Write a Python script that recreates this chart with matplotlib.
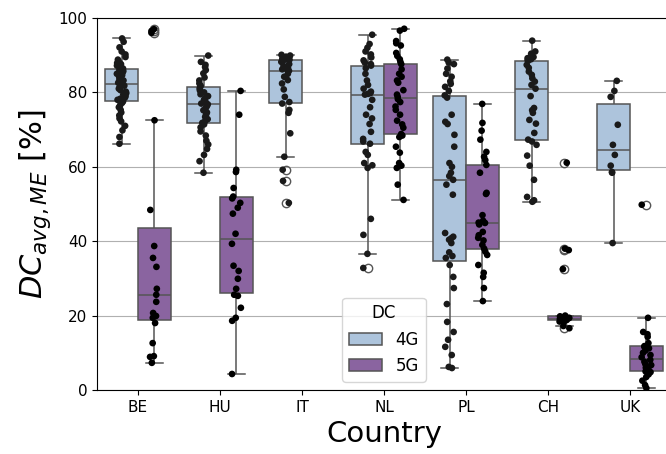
import matplotlib
matplotlib.use('Agg')
import matplotlib.pyplot as plt
import numpy as np
import pandas as pd
import seaborn as sns

countries = ['BE', 'HU', 'IT', 'NL', 'PL', 'CH', 'UK']
techs = ['4G', '5G']

# DC_avg,ME [%] per country and technology
be_4g = [94.5, 93.6, 92.1, 91.0, 90.2, 89.5, 88.8, 88.3, 87.9, 87.6, 87.2, 86.8, 86.4,
         86.0, 85.7, 85.3, 85.0, 84.6, 84.2, 83.8, 83.5, 83.2, 83.0, 82.6, 82.2, 81.8,
         81.4, 81.0, 80.6, 80.2, 79.8, 79.4, 79.0, 78.6, 78.3, 78.0, 77.6, 77.2, 76.6,
         76.0, 75.3, 74.6, 73.8, 73.0, 72.2, 71.0, 69.8, 68.0, 66.2]
be_5g = [97.0, 96.5, 96.0, 72.5, 48.4, 38.7, 35.5, 33.1, 27.2, 25.6, 23.7, 20.7, 19.9,
         19.4, 18.0, 12.6, 9.1, 8.9, 7.3]
hu_4g = [89.9, 88.2, 87.4, 86.8, 86.0, 85.1, 84.0, 83.2, 82.4, 81.8, 81.4, 81.0, 80.5,
         80.0, 79.5, 79.0, 78.5, 78.0, 77.4, 77.0, 76.8, 76.3, 75.8, 75.2, 74.6, 74.0,
         73.4, 72.8, 72.2, 71.8, 71.4, 70.6, 69.5, 68.4, 67.0, 66.0, 64.8, 63.2, 61.5, 58.4]
hu_5g = [80.4, 74.0, 59.2, 58.6, 54.3, 52.0, 51.5, 50.3, 49.0, 47.4, 42.0, 39.3, 33.4,
         32.0, 29.9, 27.2, 25.6, 25.3, 22.1, 19.4, 18.6, 4.3]
it_4g = [90.1, 89.9, 89.6, 89.3, 89.1, 89.0, 88.9, 88.8, 88.7, 88.2, 87.6, 87.1, 86.6,
         86.2, 86.0, 85.8, 85.0, 84.2, 83.3, 82.4, 80.8, 78.8, 77.4, 77.0, 75.3, 74.5,
         69.0, 62.7, 59.2, 56.2, 50.3]
nl_4g = [95.5, 93.0, 92.0, 91.0, 90.2, 89.4, 88.6, 88.0, 87.6, 87.2, 86.5, 85.0, 83.2,
         82.0, 81.0, 80.2, 79.6, 79.8, 79.4, 78.0, 76.0, 74.0, 73.0, 71.5, 69.4, 67.5,
         66.8, 66.2, 64.0, 63.2, 61.0, 60.4, 59.7, 46.0, 41.7, 36.6, 32.8]
nl_5g = [97.1, 96.6, 93.8, 93.2, 92.6, 90.6, 89.8, 88.9, 88.2, 87.6, 86.2, 85.0, 84.2,
         83.2, 82.6, 80.6, 79.4, 78.8, 78.2, 77.4, 76.2, 75.3, 74.0, 72.4, 71.4, 70.5,
         68.8, 68.4, 68.0, 65.4, 63.8, 61.0, 60.3, 59.7, 55.2, 51.1]
pl_4g = [88.8, 88.0, 87.6, 86.4, 85.0, 84.2, 83.0, 82.3, 81.5, 80.4, 79.2, 78.6, 74.0,
         72.1, 71.5, 68.6, 65.4, 61.0, 60.0, 58.4, 57.5, 56.5, 55.2, 52.5, 42.2, 41.2,
         40.8, 40.4, 39.5, 37.0, 36.0, 35.5, 33.6, 30.4, 27.4, 23.1, 18.3, 15.6, 13.5,
         11.6, 9.4, 6.2, 5.9]
pl_5g = [76.9, 71.8, 69.7, 67.3, 64.0, 62.7, 61.8, 60.5, 58.4, 53.0, 52.7, 47.0, 45.5,
         45.0, 44.9, 44.5, 42.5, 41.6, 40.9, 40.2, 39.0, 38.0, 37.2, 36.3, 33.6, 31.5,
         30.4, 27.4, 23.9]
ch_4g = [93.9, 91.0, 90.4, 89.8, 89.5, 89.2, 88.9, 88.7, 88.5, 87.4, 86.6, 85.6, 84.7,
         83.8, 82.9, 82.0, 81.0, 79.0, 75.8, 75.2, 74.5, 72.6, 71.6, 69.1, 67.3, 66.8,
         65.9, 63.0, 60.3, 56.5, 51.9, 51.0, 50.6]
ch_5g = [61.1, 38.0, 37.6, 32.5, 20.0, 19.8, 19.6, 19.5, 19.4, 19.3, 19.2, 19.1, 19.0,
         18.9, 18.8, 18.7, 18.6, 18.5, 18.4, 17.2, 16.6]
uk_4g = [83.1, 80.4, 78.8, 71.3, 65.9, 63.2, 60.3, 58.6, 58.4, 39.5]
uk_5g = [49.8, 19.4, 15.6, 15.0, 14.3, 12.6, 11.8, 11.6, 11.2, 10.6, 10.0, 9.4, 8.8,
         8.1, 7.6, 7.0, 6.7, 6.0, 5.4, 5.0, 4.8, 4.2, 3.5, 2.5, 1.3, 0.5]

groups = {
    ('BE', '4G'): be_4g, ('BE', '5G'): be_5g,
    ('HU', '4G'): hu_4g, ('HU', '5G'): hu_5g,
    ('IT', '4G'): it_4g,
    ('NL', '4G'): nl_4g, ('NL', '5G'): nl_5g,
    ('PL', '4G'): pl_4g, ('PL', '5G'): pl_5g,
    ('CH', '4G'): ch_4g, ('CH', '5G'): ch_5g,
    ('UK', '4G'): uk_4g, ('UK', '5G'): uk_5g,
}
rows = []
for (c, t), vals in groups.items():
    for v in vals:
        rows.append({'Country': c, 'DC': t, 'val': v})
df = pd.DataFrame(rows)

palette = {'4G': '#adc4dc', '5G': '#8a64a0'}

np.random.seed(3)
fig = plt.figure(figsize=(6.66, 4.54), dpi=100)
ax = fig.add_axes([0.1456, 0.141, 0.862, 0.8194])

ax.grid(True, axis='y', color='#b0b0b0', linewidth=0.8)
ax.set_axisbelow(True)

sns.boxplot(data=df, x='Country', y='val', hue='DC', order=countries, hue_order=techs,
            palette=palette, saturation=1, linecolor='#555555', linewidth=1.1,
            fliersize=6, ax=ax)
sns.stripplot(data=df, x='Country', y='val', hue='DC', order=countries, hue_order=techs,
              dodge=True, palette={'4G': '#1a1a1a', '5G': '#000000'}, size=4.8,
              jitter=0.12, legend=False, ax=ax)

ax.set_ylim(0, 100)
ax.set_xlim(-0.5, 6.5)
ax.set_yticks([0, 20, 40, 60, 80, 100])
ax.tick_params(labelsize=11)
ax.spines['right'].set_visible(False)
ax.set_xlabel('Country', fontsize=21)
ax.set_ylabel(r'$DC_{avg,ME}$ [%]', fontsize=22)

handles, labels = ax.get_legend_handles_labels()
ax.legend(handles[:2], labels[:2], title='DC', loc='lower center', fontsize=12,
          title_fontsize=12)

fig.savefig('out.png', dpi=100)
